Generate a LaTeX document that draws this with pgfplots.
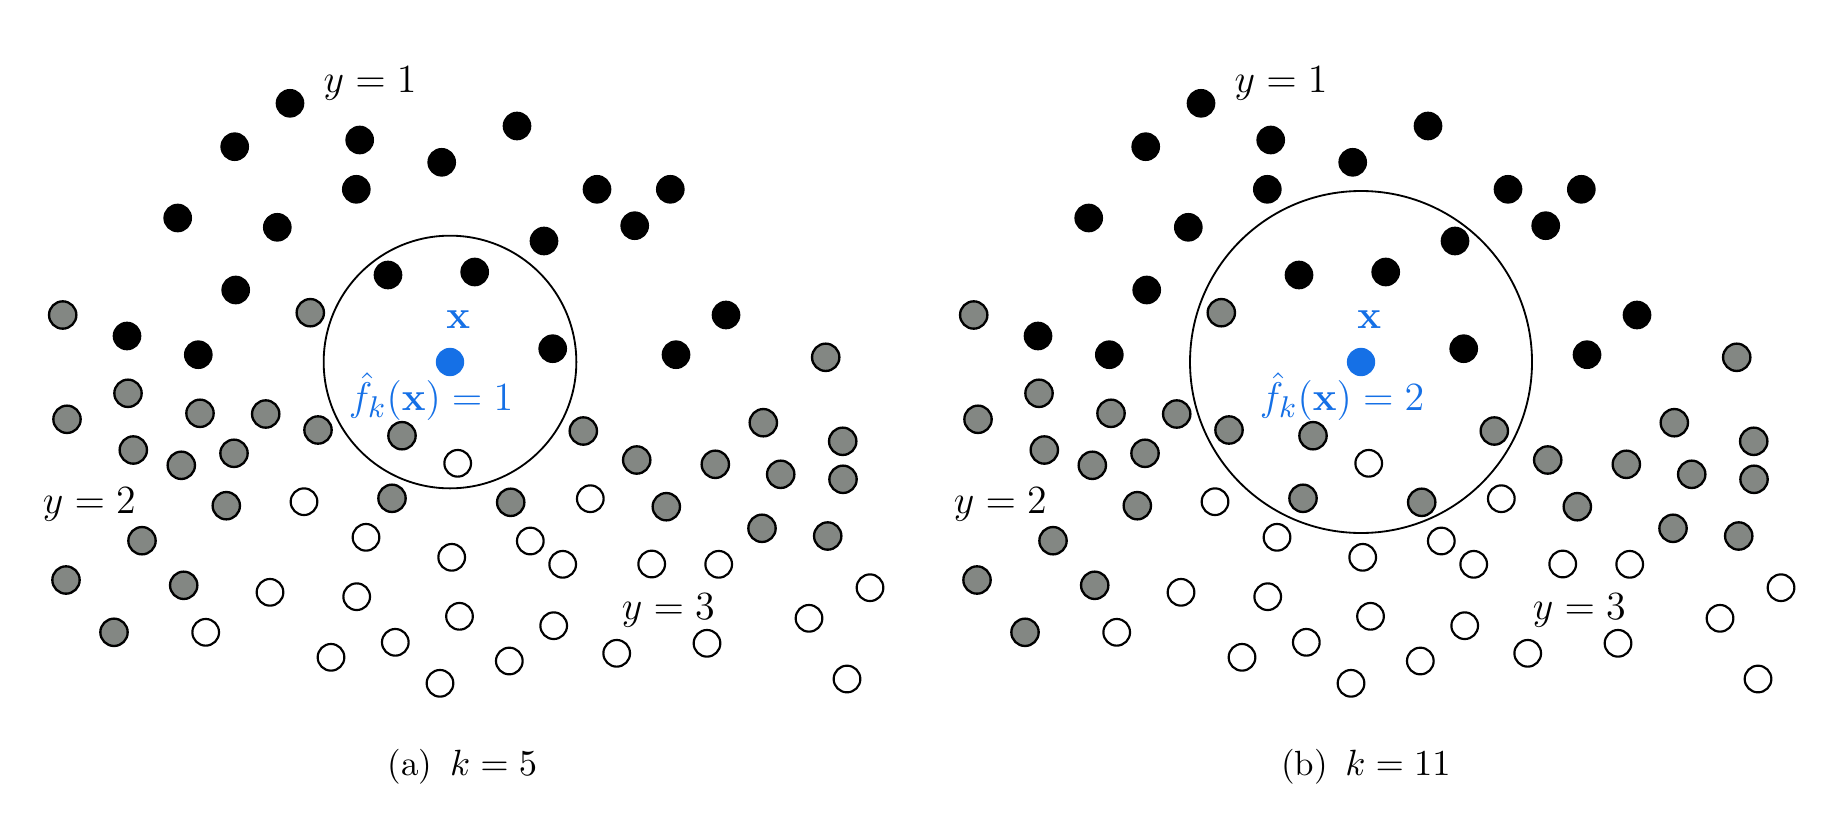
\documentclass[border=0pt]{standalone}
\usepackage{pgfplots}
\usepackage{pgfplotstable}
\pgfplotsset{compat=1.18}
\definecolor{myblue}{RGB}{21,112,230}
\definecolor{mygray}{RGB}{131,135,131}

\pgfplotstableread{
x y
290 103.3
234.7 146.7
359.7 140
441.7 162.3
517 126
356.3 189.3
177.7 218
277.3 227.3
597 189.3
670.3 189.3
634.7 225.7
544 241
235.7 290
388 275
474.7 272
127 336
198.3 354.7
552.7 348.7
726 315
676 354.7
}\blackpts

\pgfplotstableread{
x y
62.7 315
310.3 312.7
128 393.3
67 419.3
200 413.3
265.7 414
318 430
402 435.7
133.3 450
181.3 465.3
234 453.3
226.3 505.7
392 498.3
142 540.7
66 580
183.7 585.3
114 632.3
583.3 431
636.7 460
715.3 464.3
763.3 422.7
842.7 441.3
780.7 474.3
843 479.3
510.7 502.3
666.3 506.7
762 528.3
827.7 536
825.7 357.3
}\graypts

\pgfplotstableread{
x y
457.7 463.3
304 501.7
366 537.3
451.7 557.3
270 592.3
356.7 596.7
459.5 616.3
205.7 632.3
395.3 642.3
331 657.3
440 683.3
590.3 498.7
530.3 541
562.7 564.3
651.7 564
718.7 564.3
870 587.7
553.7 625.7
809 618.3
707 643.3
616.7 653.3
509.3 661
847 679
}\whitepts

\pgfplotstableread{
x y
450 362
}\query

\begin{document}
\begin{tikzpicture}
\begin{axis}[
  scale only axis,
  width=550.2pt, height=243.6pt,
  xmin=0, xmax=1834, ymin=0, ymax=812,
  y dir=reverse,
  hide axis,
  clip=false,
]
\path (rel axis cs:0,0) rectangle (rel axis cs:1,1);

% neighbourhood circles
\draw[line width=0.55pt] (axis cs:450,362) circle [radius=37.9pt];
\draw[line width=0.55pt] (axis cs:1361,362) circle [radius=51.3pt];

% left panel
\addplot[only marks, mark=*, mark size=4.0pt, mark options={draw=black, fill=black, line width=0.6pt}] table {\blackpts};
\addplot[only marks, mark=*, mark size=4.1pt, mark options={draw=black, fill=mygray, line width=0.7pt}] table {\graypts};
\addplot[only marks, mark=*, mark size=4.0pt, mark options={draw=black, fill=white, line width=0.65pt}] table {\whitepts};
\addplot[only marks, color=myblue, mark=*, mark size=4.1pt, mark options={draw=myblue, fill=myblue, line width=0.3pt}] table {\query};

% right panel
\addplot[only marks, mark=*, mark size=4.0pt, mark options={draw=black, fill=black, line width=0.6pt}] table[x expr=\thisrow{x}+911, y=y] {\blackpts};
\addplot[only marks, mark=*, mark size=4.1pt, mark options={draw=black, fill=mygray, line width=0.7pt}] table[x expr=\thisrow{x}+911, y=y] {\graypts};
\addplot[only marks, mark=*, mark size=4.0pt, mark options={draw=black, fill=white, line width=0.65pt}] table[x expr=\thisrow{x}+911, y=y] {\whitepts};
\addplot[only marks, color=myblue, mark=*, mark size=4.1pt, mark options={draw=myblue, fill=myblue, line width=0.3pt}] table[x expr=\thisrow{x}+911, y=y] {\query};

% labels
\begin{scope}[every node/.style={font=\fontsize{13.2}{15}\selectfont, inner sep=0pt}]
\node at (axis cs:370,83.3) {$y=1$};
\node at (axis cs:89.3,504) {$y=2$};
\node at (axis cs:668.3,610.7) {$y=3$};
\node[text=myblue] at (axis cs:458.3,320) {$\mathbf{x}$};
\node[text=myblue] at (axis cs:431,396.5) {$\hat{f}_k(\mathbf{x})=1$};
\node at (axis cs:1281,83.3) {$y=1$};
\node at (axis cs:1000.3,504) {$y=2$};
\node at (axis cs:1579.3,610.7) {$y=3$};
\node[text=myblue] at (axis cs:1369.3,320) {$\mathbf{x}$};
\node[text=myblue] at (axis cs:1342,396.5) {$\hat{f}_k(\mathbf{x})=2$};
\end{scope}

% captions
\begin{scope}[every node/.style={font=\fontsize{10.5}{12}\selectfont, inner sep=0pt}]
\node at (axis cs:462.5,767) {(a)\hspace{0.5em}$k=5$};
\node at (axis cs:1365.8,767) {(b)\hspace{0.5em}$k=11$};
\end{scope}
\end{axis}
\end{tikzpicture}
\end{document}
